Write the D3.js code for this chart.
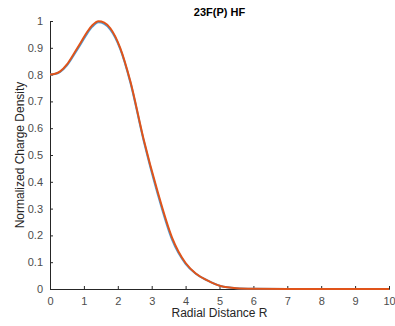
<!DOCTYPE html>
<html>
<head>
<meta charset="utf-8">
<script src="https://cdn.jsdelivr.net/npm/d3@7"></script>
<style>
  body { margin: 0; background: #fff; }
  svg { display: block; font-family: "Liberation Sans", Arial, sans-serif; }
</style>
</head>
<body>
<div id="chart"></div>
<script>
const radius = [0, 0.15, 0.3, 0.5, 0.7, 0.9, 1.1, 1.25, 1.43, 1.6, 1.78, 2.07, 2.37, 2.76, 3.16, 3.6, 4.0, 4.3, 4.64, 5.03, 5.5, 6.0, 7.0, 8.0, 9.0, 10.0];
const densityA = [0.8, 0.803, 0.812, 0.838, 0.877, 0.918, 0.96, 0.984, 0.999, 0.994, 0.973, 0.9, 0.775, 0.56, 0.37, 0.192, 0.097, 0.058, 0.032, 0.011, 0.003, 0.001, 0, 0, 0, 0];
const densityB = [0.8, 0.802, 0.81, 0.834, 0.872, 0.912, 0.954, 0.979, 0.995, 0.989, 0.968, 0.896, 0.771, 0.555, 0.362, 0.184, 0.094, 0.057, 0.032, 0.011, 0.003, 0.001, 0, 0, 0, 0];
const xTicks = [0, 1, 2, 3, 4, 5, 6, 7, 8, 9, 10];
const yTicks = [0, 0.1, 0.2, 0.3, 0.4, 0.5, 0.6, 0.7, 0.8, 0.9, 1];

const width = 395, height = 326;
const margin = { top: 21, right: 6, bottom: 37, left: 50 };
const w = width - margin.left - margin.right;
const h = height - margin.top - margin.bottom;

const svg = d3.select('#chart').append('svg')
  .attr('width', width)
  .attr('height', height);

const g = svg.append('g')
  .attr('transform', `translate(${margin.left},${margin.top})`);

const x = d3.scaleLinear().domain([0, 10]).range([0, w]);
const y = d3.scaleLinear().domain([0, 1]).range([h, 0]);

const axisColor = '#262626';

// axes (ticks point inward like matlab)
const xAxis = g.append('g')
  .attr('transform', `translate(0,${h})`)
  .call(d3.axisBottom(x).tickValues(xTicks).tickSize(-3).tickPadding(8).tickFormat(d3.format('~g')));
const yAxis = g.append('g')
  .call(d3.axisLeft(y).tickValues(yTicks).tickSize(-3).tickPadding(7).tickFormat(d3.format('~g')));

[xAxis, yAxis].forEach(a => {
  a.select('.domain').attr('stroke', axisColor);
  a.selectAll('.tick line').attr('stroke', axisColor);
  a.selectAll('.tick text').attr('fill', '#4d4d4d').style('font-size', '11px');
});

const line = d3.line()
  .x((d, i) => x(radius[i]))
  .y(d => y(d))
  .curve(d3.curveMonotoneX);

g.append('path')
  .datum(densityB)
  .attr('fill', 'none')
  .attr('stroke', '#4d9bd6')
  .attr('stroke-width', 2)
  .attr('d', line);

g.append('path')
  .datum(densityA)
  .attr('fill', 'none')
  .attr('stroke', '#e0541a')
  .attr('stroke-width', 2)
  .attr('d', line);

svg.append('text')
  .attr('x', margin.left + w / 2)
  .attr('y', 16)
  .attr('text-anchor', 'middle')
  .style('font-size', '11px')
  .style('font-weight', 'bold')
  .attr('fill', '#000')
  .text('23F(P) HF');

svg.append('text')
  .attr('x', margin.left + w / 2)
  .attr('y', 317)
  .attr('text-anchor', 'middle')
  .style('font-size', '12px')
  .attr('fill', '#262626')
  .text('Radial Distance R');

svg.append('text')
  .attr('transform', `translate(24,${margin.top + h / 2}) rotate(-90)`)
  .attr('text-anchor', 'middle')
  .style('font-size', '12px')
  .attr('fill', '#262626')
  .text('Normalized Charge Density');
</script>
</body>
</html>
